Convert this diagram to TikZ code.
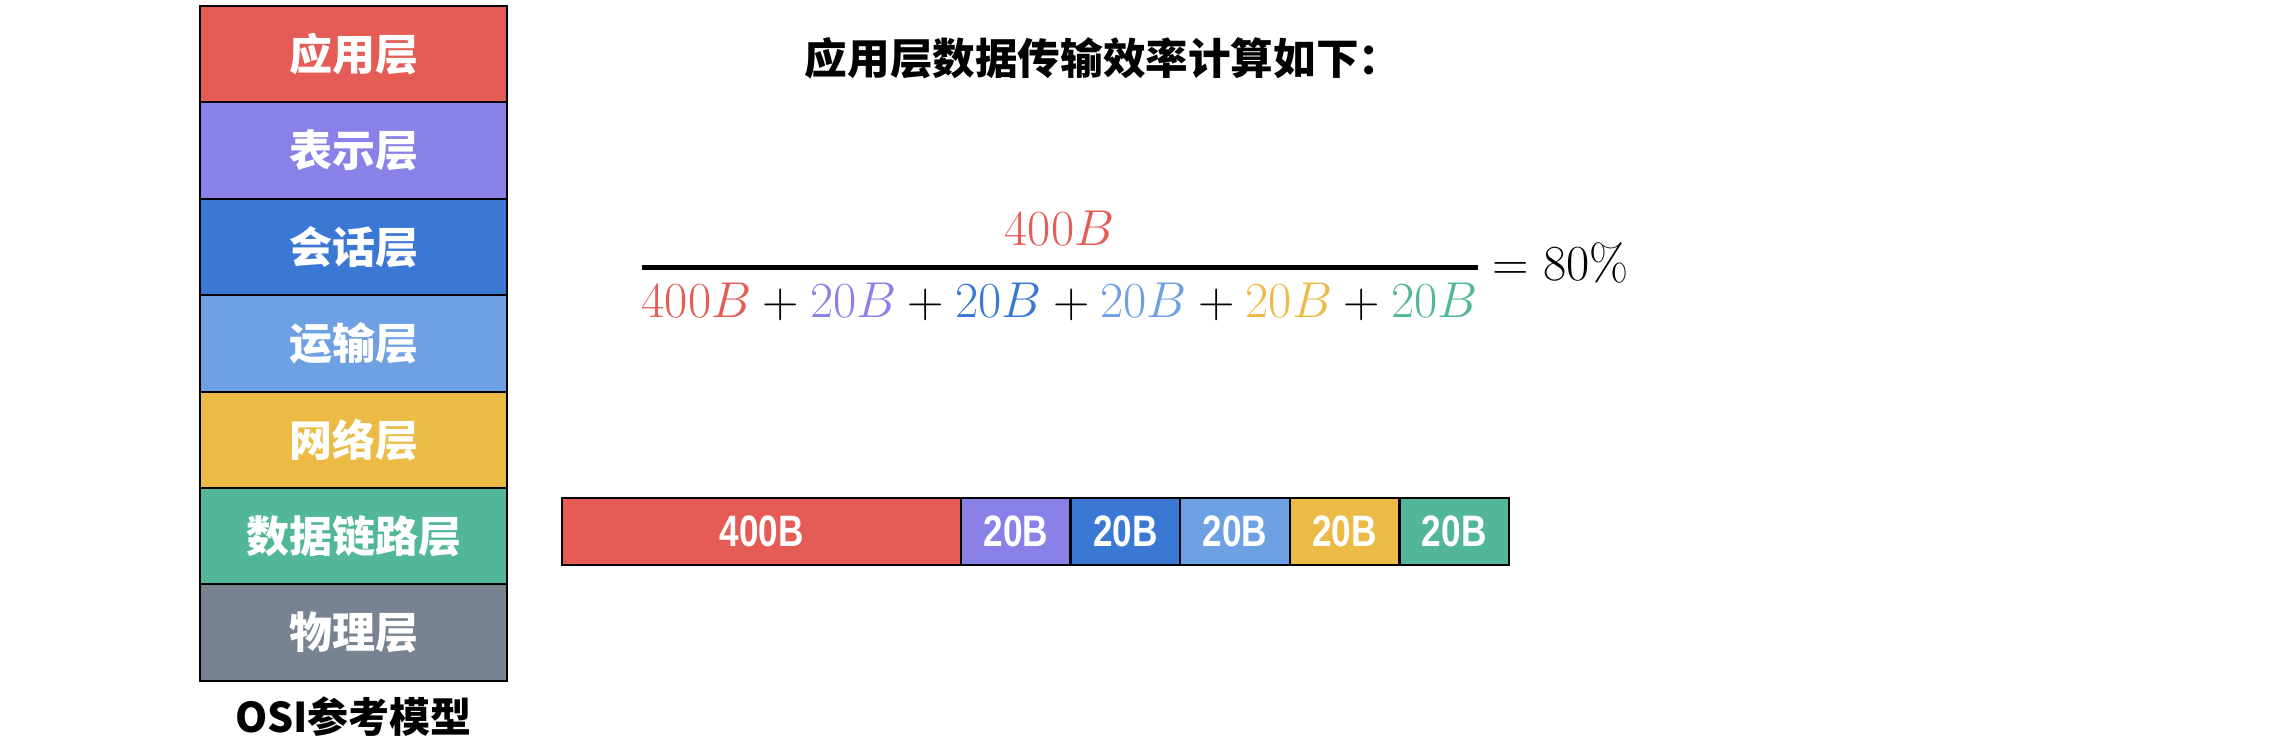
\RequirePackage{fix-cm}
\documentclass[tikz,border=0pt]{standalone}
\usepackage{amsmath}
\usepackage{fontspec}
\usetikzlibrary{positioning}

\newfontfamily\cjk{Noto Sans CJK SC}[BoldFont={Noto Sans CJK SC Black}]
\newfontfamily\narrowsans[FakeStretch=0.8]{Liberation Sans}

\definecolor{appred}{HTML}{E55B56}
\definecolor{prepurple}{HTML}{8A81E8}
\definecolor{sesblue}{HTML}{3B78D4}
\definecolor{trablue}{HTML}{6EA0E4}
\definecolor{netyellow}{HTML}{EBBB45}
\definecolor{datgreen}{HTML}{52B79A}
\definecolor{phygray}{HTML}{788391}

\tikzset{
  layer/.style={draw=black, line width=2pt, minimum width=307pt, minimum height=96.4pt,
    inner sep=0pt, outer sep=0pt, text=white, font=\cjk\bfseries\fontsize{43}{43}\selectfont},
  seg/.style={draw=black, line width=2.5pt, minimum height=67pt, inner sep=0pt, outer sep=0pt,
    text=white, font=\narrowsans\bfseries\fontsize{44}{44}\selectfont},
}

\begin{document}
\begin{tikzpicture}[x=1pt,y=-1pt]
        \useasboundingbox (0,0) rectangle (2290,754);
        % OSI stack
        \node[layer, fill=appred] (app) at (353.5,54.2) {应用层};
        \node[layer, fill=prepurple, below=0pt of app] (pre) {表示层};
        \node[layer, fill=sesblue, below=0pt of pre] (ses) {会话层};
        \node[layer, fill=trablue, below=0pt of ses] (tra) {运输层};
        \node[layer, fill=netyellow, below=0pt of tra] (net) {网络层};
        \node[layer, fill=datgreen, below=0pt of net] (dat) {数据链路层};
        \node[layer, fill=phygray, below=0pt of dat] (phy) {物理层};
        \node[below=12pt of phy, font=\cjk\bfseries\fontsize{41}{41}\selectfont] (osi) {OSI参考模型};
        % title and formula
        \node[font=\cjk\bfseries\fontsize{42.6}{42.6}\selectfont] (title) at (1103,58) {应用层数据传输效率计算如下：};
        \node[anchor=base, inner sep=0pt, font=\fontsize{50.5}{50.5}\selectfont] (eff) at (1134.5,280)
          {$\genfrac{}{}{4.5pt}{0}{\color{appred}400B}{{\color{appred}400B}+{\color{prepurple}20B}+{\color{sesblue}20B}+{\color{trablue}20B}+{\color{netyellow}20B}+{\color{datgreen}20B}}=80\%$};
        % data unit
        \node[seg, fill=appred, minimum width=399pt, anchor=west] (d400) at (562,531.5) {400B};
        \node[seg, fill=prepurple, minimum width=109.6pt, right=0pt of d400] (h1) {20B};
        \node[seg, fill=sesblue, minimum width=109.6pt, right=0pt of h1] (h2) {20B};
        \node[seg, fill=trablue, minimum width=109.6pt, right=0pt of h2] (h3) {20B};
        \node[seg, fill=netyellow, minimum width=109.6pt, right=0pt of h3] (h4) {20B};
        \node[seg, fill=datgreen, minimum width=109.6pt, right=0pt of h4] (h5) {20B};
      \end{tikzpicture}
\end{document}
